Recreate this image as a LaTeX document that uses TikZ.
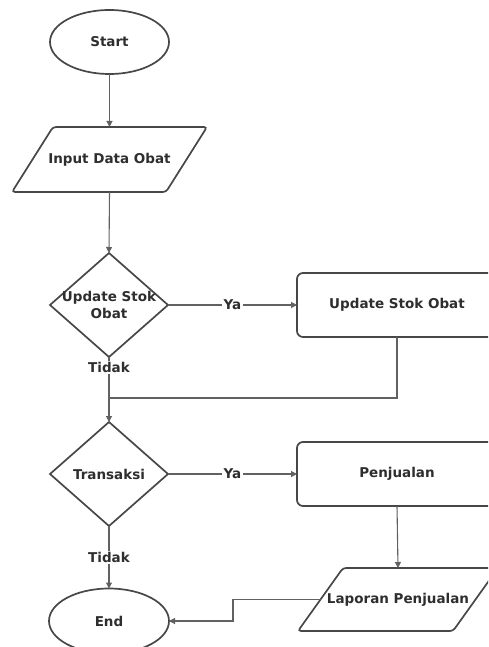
\documentclass[tikz,border=0pt]{standalone}
\usepackage{fontspec}
\setmainfont{DejaVu Sans}
\usetikzlibrary{shapes.geometric,arrows.meta,calc}
\begin{document}
\begin{tikzpicture}[x=1pt,y=-1pt,
  every node/.style={font=\fontsize{13.5}{16.5}\selectfont\bfseries, text=black!82, outer sep=0pt, inner sep=0pt},
  shapeline/.style={draw=black!72, line width=1.7pt},
  term/.style={shapeline, ellipse, fill=white, minimum width=119pt, minimum height=64pt},
  decision/.style={shapeline, diamond, fill=white, minimum width=118pt, minimum height=104pt},
  process/.style={shapeline, rectangle, rounded corners=6pt, fill=white, minimum width=200pt, minimum height=64pt},
  iobox/.style={rectangle, minimum height=64pt},
  conn/.style={draw=black!62, line width=1.1pt},
  arr/.style={conn, -{Triangle[length=6pt,width=6pt]}},
  lbl/.style={fill=white, inner sep=1.5pt}
]
\clip (0,0) rectangle (488,647);
\useasboundingbox (0,0) rectangle (488,647);

% nodes
\node[term] (start) at (109.5,42) {Start};

\node[iobox, minimum width=154pt, minimum height=65pt] (input) at (109.5,159.5) {Input Data Obat};
\draw[shapeline, rounded corners=3pt] ([xshift=20.5pt]input.north west) -- ([xshift=20.5pt]input.north east) -- ([xshift=-20.5pt]input.south east) -- ([xshift=-20.5pt]input.south west) -- cycle;

\node[decision] (d1) at (109,305) {};
\node[align=center] (d1text) at (109,305) {Update Stok\\Obat};

\node[process] (upd) at (397,305) {Update Stok Obat};

\node[decision] (d2) at (109,474) {};
\node (d2text) at (109,474) {Transaksi};

\node[process] (pen) at (397,474) {Penjualan};

\node[iobox, minimum width=155pt, minimum height=63pt] (lap) at (398,599.5) {Laporan Penjualan};
\draw[shapeline, rounded corners=3pt] ([xshift=22.5pt]lap.north west) -- ([xshift=22.5pt]lap.north east) -- ([xshift=-22.5pt]lap.south east) -- ([xshift=-22.5pt]lap.south west) -- cycle;

\node[term, minimum width=120pt, minimum height=65pt] (end) at (109,621) {End};

% connectors
\coordinate (join) at (109,398);
\coordinate (bend) at (233,599.5);

\draw[arr] (start.south) -- (input.north);
\draw[arr] (input.south) -- (d1.north);
\draw[arr] (d1.east) -- node[lbl, midway] (ya1) {Ya} (upd.west);
\draw[conn] (upd.south) |- (join);
\draw[arr] (d1.south) -- node[lbl, pos=0.26] (t1) {Tidak} (join) -- (d2.north);
\draw[arr] (d2.east) -- node[lbl, midway] (ya2) {Ya} (pen.west);
\draw[arr] (d2.south) -- node[lbl, midway] (t2) {Tidak} (end.north);
\draw[arr] (pen.south) -- (lap.north);
\draw[arr] (lap.west) -- (bend) |- (end.east);
\end{tikzpicture}
\end{document}
